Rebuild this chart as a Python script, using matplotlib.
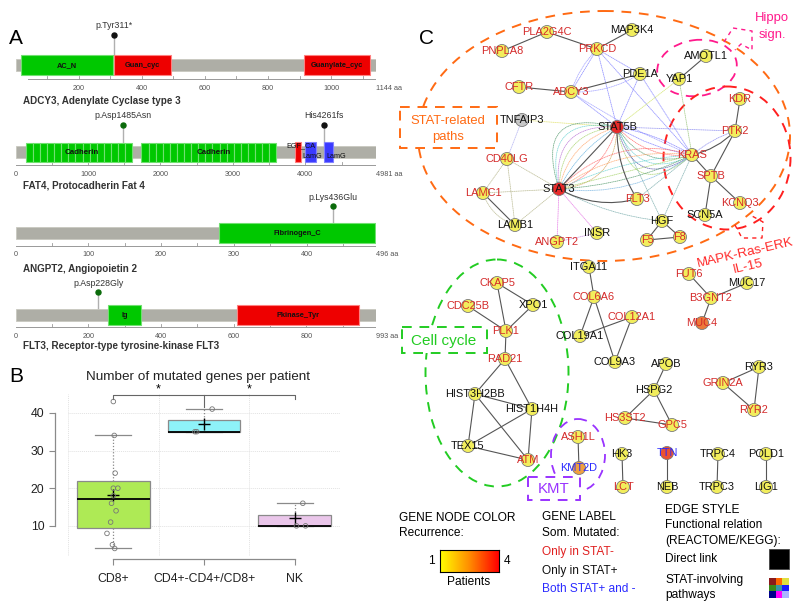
import numpy as np
import matplotlib
matplotlib.use("Agg")
import matplotlib.pyplot as plt
from matplotlib.patches import Rectangle, Circle, Ellipse, FancyArrowPatch
from matplotlib.colors import LinearSegmentedColormap

plt.rcParams['font.family'] = ['Liberation Sans', 'DejaVu Sans']

W, H = 800, 608

# ---------------- panel A data ----------------
prot_titles = ["ADCY3, Adenylate Cyclase type 3", "FAT4, Protocadherin Fat 4",
               "ANGPT2, Angiopoietin 2", "FLT3, Receptor-type tyrosine-kinase FLT3"]
prot_len = [1144, 4981, 496, 993]
prot_label_step = [200, 1000, 100, 200]
prot_tick_step = [100, 500, 50, 100]
prot_axis_start = [40, 0, 0, 0]

dom_prot = [0, 0, 0, 1, 1, 1, 2, 3, 3]
dom_start = [19, 311, 915, 3862, 4000, 4250, 280, 255, 610]
dom_end = [308, 494, 1123, 3945, 4150, 4375, 494, 346, 944]
dom_name = ["AC_N", "Guan_cyc", "Guanylate_cyc", "EGF_CA", "LamG", "LamG", "Fibrinogen_C", "Ig", "Pkinase_Tyr"]
dom_kind = ["g", "r", "r", "r", "b", "b", "g", "g", "r"]
# where the small FAT4 domain names sit (aa)
dom_label_x = [None, None, None, 3940, 4095, 4425, None, None, None]

# FAT4 cadherin repeats
cadherin_starts = [138, 236, 335, 433, 532, 630, 728, 827, 925, 1024, 1122, 1220, 1319, 1417, 1516,
                   1738, 1836, 1934, 2032, 2130, 2228, 2326, 2424, 2522, 2620, 2718, 2816, 2914,
                   3012, 3110, 3208, 3306, 3404, 3502]
cadherin_len = 98
cadherin_label_pos = [920, 2730]

mut_prot = [0, 1, 1, 2, 3]
mut_pos = [311, 1485, 4261, 436, 228]
mut_label = ["p.Tyr311*", "p.Asp1485Asn", "His4261fs", "p.Lys436Glu", "p.Asp228Gly"]
mut_kind = ["k", "g", "k", "g", "g"]

# ---------------- panel B data ----------------
groups = ["CD8+", "CD4+-CD4+/CD8+", "NK"]
cd8_vals = [43, 34, 24, 20, 20, 18, 16, 14, 11, 8, 5, 4]
cd8_jit = [0.00, 0.01, 0.02, 0.00, 0.05, 0.00, -0.02, 0.03, -0.03, -0.07, -0.01, 0.015]
cd4_vals = [35, 35, 41]
cd4_jit = [-0.10, -0.08, 0.09]
nk_vals = [10, 10, 16]
nk_jit = [0.02, 0.12, 0.09]
box_colors = ["#aeea55", "#8ef2f8", "#eac6ea"]

# ---------------- panel C data ----------------
node_names = ["PLA2G4C", "PNPLA8", "PRKCD", "MAP3K4", "PDE1A", "CFTR", "ADCY3", "AMOTL1", "YAP1",
              "TNFAIP3", "STAT5B", "KDR", "PTK2", "KRAS", "SPTB", "CD40LG", "STAT3", "LAMC1",
              "FLT3", "LAMB1", "KCNQ3", "SCN5A", "HGF", "INSR", "ANGPT2", "F5", "F8", "ITGA11",
              "FUT6", "MUC17", "CKAP5", "XPO1", "CDC25B", "COL6A6", "B3GNT2", "COL12A1", "MUC4",
              "PLK1", "COL19A1", "RAD21", "COL9A3", "APOB", "RYR3", "HSPG2", "GRIN2A", "RYR2",
              "HS3ST2", "GPC5", "HK3", "TTN", "TRPC4", "POLD1", "LCT", "NEB", "TRPC3", "LIG1",
              "HIST3H2BB", "HIST1H4H", "TEX15", "ATM", "ASH1L", "KMT2D"]
node_x = [547, 502, 597, 632, 640, 519, 571, 706, 679,
          522, 617, 740, 735, 692, 711, 507, 559, 483,
          637, 515, 740, 705, 662, 597, 557, 647, 680, 589,
          689, 747, 497, 533, 468, 594, 711, 632, 702,
          506, 580, 505, 615, 666, 759, 654, 723, 754,
          625, 672, 622, 667, 718, 766, 623, 667, 717, 766,
          475, 532, 468, 528, 578, 579]
node_y = [32, 51, 49, 30, 74, 87, 92, 56, 79,
          120, 127, 99, 131, 155, 176, 159, 189, 193,
          199, 225, 203, 215, 221, 233, 242, 240, 237, 267,
          274, 283, 283, 305, 306, 297, 298, 317, 323,
          331, 336, 359, 362, 364, 367, 390, 383, 410,
          418, 425, 454, 453, 454, 454, 487, 487, 487, 487,
          394, 409, 446, 460, 437, 468]
# patients with the mutation (0 = not mutated, grey node)
node_rec = [1, 1, 1, 1, 1, 1, 1, 1, 1,
            0, 4, 1, 1, 1, 1, 1, 4, 1,
            1, 1, 1, 1, 1, 1, 1, 1, 1, 1,
            1, 1, 1, 1, 1, 1, 1, 1, 3,
            1, 1, 1, 1, 1, 1, 1, 1, 1,
            1, 1, 1, 3.5, 1, 1, 1, 1, 1, 1,
            1, 1, 1, 1, 1, 2.5]
# r = only in STAT-, k = only in STAT+, b = both
node_lab = ["r", "r", "r", "k", "k", "r", "r", "k", "k",
            "k", "k", "r", "r", "r", "r", "r", "k", "r",
            "r", "k", "r", "k", "k", "k", "r", "r", "r", "k",
            "r", "k", "r", "k", "r", "r", "r", "r", "r",
            "r", "k", "r", "k", "k", "k", "k", "r", "r",
            "r", "r", "k", "b", "k", "k", "r", "k", "k", "k",
            "k", "k", "k", "r", "r", "b"]

direct_edges = [("PNPLA8", "PLA2G4C"), ("PLA2G4C", "PRKCD"), ("PRKCD", "MAP3K4"), ("CFTR", "ADCY3"),
                ("ADCY3", "PDE1A"), ("AMOTL1", "YAP1"), ("KDR", "PTK2"), ("PTK2", "SPTB"),
                ("KRAS", "SPTB"), ("SPTB", "SCN5A"), ("SPTB", "KCNQ3"), ("STAT5B", "STAT3"),
                ("HGF", "F5"), ("HGF", "F8"), ("F5", "F8"), ("LAMC1", "LAMB1"),
                ("ITGA11", "COL6A6"), ("COL6A6", "COL19A1"), ("COL6A6", "COL9A3"),
                ("COL12A1", "COL19A1"), ("COL12A1", "COL9A3"), ("CKAP5", "XPO1"), ("CKAP5", "PLK1"),
                ("CDC25B", "PLK1"), ("XPO1", "PLK1"), ("PLK1", "RAD21"), ("RAD21", "HIST3H2BB"),
                ("RAD21", "HIST1H4H"), ("HIST3H2BB", "HIST1H4H"), ("HIST3H2BB", "TEX15"),
                ("HIST3H2BB", "ATM"), ("HIST1H4H", "TEX15"), ("HIST1H4H", "ATM"), ("TEX15", "ATM"),
                ("ASH1L", "KMT2D"), ("FUT6", "B3GNT2"), ("MUC17", "B3GNT2"), ("B3GNT2", "MUC4"),
                ("APOB", "HSPG2"), ("HSPG2", "HS3ST2"), ("HSPG2", "GPC5"), ("HS3ST2", "GPC5"),
                ("RYR3", "GRIN2A"), ("RYR3", "RYR2"), ("GRIN2A", "RYR2"), ("HK3", "LCT"),
                ("TTN", "NEB"), ("TRPC4", "TRPC3"), ("POLD1", "LIG1")]
curved_direct = [("KRAS", "PTK2", 0.15), ("STAT5B", "FLT3", 0.15), ("STAT3", "FLT3", 0.2)]

pathway_edges = [
    ("PRKCD", "ADCY3", "#6a6aff", 0.0), ("PRKCD", "ADCY3", "#8a8aff", 0.12),
    ("PRKCD", "PDE1A", "#6a6aff", 0.0), ("PRKCD", "STAT5B", "#6a6aff", 0.0),
    ("PRKCD", "KRAS", "#6a6aff", 0.0), ("PDE1A", "STAT5B", "#6a6aff", 0.0),
    ("PDE1A", "KRAS", "#6a6aff", 0.0), ("ADCY3", "STAT5B", "#6a6aff", 0.0),
    ("ADCY3", "KRAS", "#8a8aff", 0.05), ("ADCY3", "PDE1A", "#8a8aff", 0.15),
    ("STAT5B", "PTK2", "#7a7aee", 0.0), ("KRAS", "PTK2", "#7a7aee", -0.1),
    ("TNFAIP3", "CD40LG", "#a0a0ee", 0.0), ("TNFAIP3", "STAT5B", "#dede55", 0.0),
    ("YAP1", "STAT5B", "#c8e050", 0.0), ("YAP1", "KRAS", "#88bb66", 0.0),
    ("CD40LG", "STAT3", "#aaaa7a", 0.0), ("CD40LG", "LAMC1", "#aaaa7a", 0.0),
    ("CD40LG", "LAMB1", "#aaaa7a", 0.0), ("LAMC1", "STAT3", "#aaaa7a", 0.0),
    ("LAMB1", "STAT3", "#aaaa7a", 0.0), ("LAMC1", "LAMB1", "#aaaa7a", 0.25),
    ("STAT3", "ANGPT2", "#e060e0", 0.0), ("STAT3", "INSR", "#e060e0", 0.0),
    ("ANGPT2", "INSR", "#c080e0", 0.0),
    ("STAT5B", "HGF", "#66a0a0", 0.0), ("KRAS", "HGF", "#66a0a0", 0.0),
    ("STAT3", "HGF", "#66a0a0", 0.1), ("KRAS", "FLT3", "#66a0a0", 0.0),
    # STAT3 - STAT5B fan
    ("STAT3", "STAT5B", "#3e8d5a", -0.9), ("STAT3", "STAT5B", "#55cccc", -0.75),
    ("STAT3", "STAT5B", "#b060d0", -0.6), ("STAT3", "STAT5B", "#99cc55", -0.45),
    ("STAT3", "STAT5B", "#ff9955", -0.3), ("STAT3", "STAT5B", "#55aadd", -0.15),
    ("STAT3", "STAT5B", "#ff5555", 0.25), ("STAT3", "STAT5B", "#cc9944", 0.45),
    # STAT5B - KRAS fan
    ("STAT5B", "KRAS", "#6666ff", 0.1), ("STAT5B", "KRAS", "#ff5555", 0.25),
    ("STAT5B", "KRAS", "#3e8d5a", 0.4), ("STAT5B", "KRAS", "#55cccc", 0.55),
    ("STAT5B", "KRAS", "#3a3a9b", 0.7), ("STAT5B", "KRAS", "#99cc55", 0.85),
    ("STAT5B", "KRAS", "#6666ff", -0.1),
    # STAT3 - KRAS fan
    ("STAT3", "KRAS", "#ff5555", -0.3), ("STAT3", "KRAS", "#ff9955", -0.2),
    ("STAT3", "KRAS", "#55cccc", -0.1), ("STAT3", "KRAS", "#99cc55", 0.0),
    ("STAT3", "KRAS", "#3e8d5a", 0.1), ("STAT3", "KRAS", "#66aadd", 0.2),
]

edge_legend_colors = [["#8b1a1a", "#ff6600", "#e0e040"],
                      ["#3a8a1a", "#3a94a8", "#1a1aff"],
                      ["#00008b", "#ff00ff", "#aab4ff"]]


def px_axes(x0, y0, x1, y1):
    return fig.add_axes([x0 / W, 1 - y1 / H, (x1 - x0) / W, (y1 - y0) / H])


fig = plt.figure(figsize=(8, 6.08), dpi=100)
fig.patch.set_facecolor("white")

# overlay in pixel coordinates
ov = fig.add_axes([0, 0, 1, 1])
ov.set_xlim(0, W)
ov.set_ylim(H, 0)
ov.axis("off")

# ======================= Panel A =======================
bar_y = [65, 152, 233, 315]
axis_y = [79, 165, 246, 327]
title_y = [101, 186, 269, 346]
stem_h = [30, 27, 27, 23]
dom_fc = {"g": "#00c800", "r": "#ee0000", "b": "#3a3aff"}
dom_ec = {"g": "#70e070", "r": "#ff8080", "b": "#8080ff"}
mut_c = {"k": "#111111", "g": "#0b6b0b"}
tick_font = dict(family=["Liberation Sans Narrow", "Liberation Sans"], fontsize=5.2, color="#555555")

for i in range(4):
    L = prot_len[i]
    ax = fig.add_axes([15.5 / W, 0, 361 / W, 1])
    ax.set_xlim(0, L)
    ax.set_ylim(H, 0)
    ax.axis("off")
    by = bar_y[i]
    # mutation stems (behind)
    for p, mp, lab, kd in zip(mut_prot, mut_pos, mut_label, mut_kind):
        if p != i:
            continue
        ax.plot([mp, mp], [by, by - stem_h[i]], color="#b0b0b0", lw=1.0, zorder=1)
        ax.plot(mp, by - stem_h[i], "o", ms=3.6, color=mut_c[kd], zorder=4)
        ax.text(mp, by - stem_h[i] - 9, lab, ha="center", va="center", fontsize=6.3, color="#333333")
    ax.add_patch(Rectangle((0, by - 6), L, 12, fc="#aeaea6", ec="#c8c8c0", lw=0.6, zorder=2))
    if i == 1:
        for s in cadherin_starts:
            ax.add_patch(Rectangle((s, by - 9.5), cadherin_len, 19, fc=dom_fc["g"], ec=dom_ec["g"],
                                   lw=0.8, zorder=3))
        for cx in cadherin_label_pos:
            ax.text(cx, by + 1, "Cadherin", ha="center", va="center", fontsize=5.7,
                    fontweight="bold", color="#111111", zorder=5)
    for p, s, e, nm, kd, lx in zip(dom_prot, dom_start, dom_end, dom_name, dom_kind, dom_label_x):
        if p != i:
            continue
        ax.add_patch(Rectangle((s, by - 10), e - s, 20, fc=dom_fc[kd], ec=dom_ec[kd], lw=0.8, zorder=3))
        if lx is not None:
            dy = -6 if nm == "EGF_CA" else 4.5
            ax.text(lx, by + dy, nm, ha="center", va="center", fontsize=5.2, color="#111111", zorder=5)
        else:
            ax.text((s + e) / 2, by + 0.5, nm, ha="center", va="center", fontsize=5.3,
                    fontweight="bold", color="#111111", zorder=5)
    # amino-acid axis
    ay = axis_y[i]
    ax.plot([prot_axis_start[i], L], [ay, ay], color="#999999", lw=0.7)
    t = prot_tick_step[i]
    while t < L:
        ax.plot([t, t], [ay - 3.5, ay], color="#999999", lw=0.6)
        t += prot_tick_step[i]
    ax.plot([L, L], [ay - 3.5, ay], color="#999999", lw=0.6)
    lab = prot_label_step[i] if i == 0 else 0
    while lab < L - prot_label_step[i] * 0.4:
        ax.text(lab, ay + 9, str(lab), ha="center", va="center", **tick_font)
        lab += prot_label_step[i]
    ax.text(L, ay + 9, f"{L} aa", ha="left", va="center", **tick_font)
    ax.text((23 - 15.5) / 361 * L, title_y[i], prot_titles[i], ha="left", va="center",
            fontsize=7.1, fontweight="bold", color="#333333")

ov.text(16, 38, "A", ha="center", va="center", fontsize=15)

# ======================= Panel B =======================


def fivenum(v):
    v = np.sort(np.asarray(v, float))
    n = len(v)
    n4 = np.floor((n + 3) / 2) / 2
    d = np.array([1, n4, (n + 1) / 2, n + 1 - n4, n]) - 1
    return 0.5 * (v[np.floor(d).astype(int)] + v[np.ceil(d).astype(int)])


axB = px_axes(68, 394, 340, 556)
axB.set_xlim(0.5, 3.5)
axB.set_ylim(2, 45)
axB.set_facecolor("none")
for gy in [10, 20, 30, 40]:
    axB.axhline(gy, color="#e2e2e2", lw=0.7, ls=(0, (1, 1)), zorder=0)
for gx in [0.5, 1.5, 2.5, 3.5]:
    axB.axvline(gx, color="#e2e2e2", lw=0.7, ls=(0, (1, 1)), zorder=0)

all_vals = [cd8_vals, cd4_vals, nk_vals]
all_jit = [cd8_jit, cd4_jit, nk_jit]
stats = []
for vals in all_vals:
    mn, q1, med, q3, mx = fivenum(vals)
    iqr = q3 - q1
    v = np.asarray(vals, float)
    stats.append(dict(med=med, q1=q1, q3=q3,
                      whislo=v[v >= q1 - 1.5 * iqr].min(),
                      whishi=v[v <= q3 + 1.5 * iqr].max(),
                      mean=v.mean(), fliers=[]))
bp = axB.bxp(stats, positions=[1, 2, 3], widths=0.8, capwidths=0.4, patch_artist=True,
             showmeans=True, showfliers=False,
             boxprops=dict(edgecolor="#8a8a8a", lw=0.9),
             medianprops=dict(color="black", lw=1.3),
             whiskerprops=dict(color="#8a8a8a", lw=0.9, ls=(0, (1, 1.5))),
             capprops=dict(color="#8a8a8a", lw=0.9),
             meanprops=dict(marker="+", markersize=8, markeredgecolor="black", markeredgewidth=1.0))
for patch, c in zip(bp["boxes"], box_colors):
    patch.set_facecolor(c)
for k, (vals, jit) in enumerate(zip(all_vals, all_jit)):
    axB.scatter(np.array(jit) + k + 1, vals, s=11, facecolor="none", edgecolor="#777777", lw=0.6, zorder=5)

# significance brackets
axB.plot([1, 1, 3, 3], [43.7, 44.8, 44.8, 43.7], color="#666666", lw=0.8, clip_on=False)
axB.plot([2, 2], [44.8, 41.5], color="#666666", lw=0.8, clip_on=False)
axB.text(1.5, 46.3, "*", ha="center", va="center", fontsize=9)
axB.text(2.5, 46.3, "*", ha="center", va="center", fontsize=9)

for s in ["top", "right"]:
    axB.spines[s].set_visible(False)
axB.spines["left"].set_position(("outward", 9.4))
axB.spines["left"].set_bounds(10, 40)
axB.spines["bottom"].set_position(("outward", 2.2))
axB.spines["bottom"].set_bounds(1, 3)
for s in ["left", "bottom"]:
    axB.spines[s].set_color("#8a8a8a")
    axB.spines[s].set_linewidth(0.9)
axB.set_yticks([10, 20, 30, 40])
axB.set_xticks([1, 2, 3])
axB.set_xticklabels(groups)
axB.tick_params(colors="#8a8a8a", labelcolor="#222222", labelsize=8.8, length=4)
axB.tick_params(axis="x", pad=6)
fig.text(198 / W, 1 - 377 / H, "Number of mutated genes per patient", ha="center", va="center",
         fontsize=9.7, color="#222222")
ov.text(16, 377, "B", ha="center", va="center", fontsize=15)

# ======================= Panel C =======================
pos = {n: (x, y) for n, x, y in zip(node_names, node_x, node_y)}

# group outlines
dash = (0, (5, 4))
ov.add_patch(Ellipse((604, 136), 372, 250, fill=False, ec="#ff6a13", lw=1.4, ls=dash, zorder=1))
ov.add_patch(Ellipse((697, 68), 80, 56, angle=-8, fill=False, ec="#ff1a8c", lw=1.3, ls=dash, zorder=1))
ov.plot([724, 733, 752, 752, 741, 735], [42, 28, 31, 50, 44, 50], color="#ff1a8c", lw=1.0, ls=(0, (3, 3)))
ov.add_patch(Ellipse((727, 158), 127, 143, fill=False, ec="#ff2020", lw=1.4, ls=dash, zorder=1))
ov.plot([735, 742, 762, 763, 752], [225, 238, 238, 222, 216], color="#ff2020", lw=1.0, ls=(0, (3, 3)))
ov.add_patch(Ellipse((497, 373), 143, 227, fill=False, ec="#22cc22", lw=1.4, ls=dash, zorder=1))
ov.add_patch(Ellipse((578, 455), 54, 72, fill=False, ec="#9933ff", lw=1.3, ls=dash, zorder=1))

# pathway (dotted) edges
for a, b, c, r in pathway_edges:
    ov.add_patch(FancyArrowPatch(pos[a], pos[b], connectionstyle=f"arc3,rad={r}", arrowstyle="-",
                                 shrinkA=0, shrinkB=0, color=c, lw=0.6, ls=(0, (1, 1.2)), alpha=0.7, zorder=2))
# direct edges
for a, b in direct_edges:
    ov.plot([pos[a][0], pos[b][0]], [pos[a][1], pos[b][1]], color="#555555", lw=0.8, zorder=3)
for a, b, r in curved_direct:
    ov.add_patch(FancyArrowPatch(pos[a], pos[b], connectionstyle=f"arc3,rad={r}", arrowstyle="-",
                                 shrinkA=0, shrinkB=0, color="#555555", lw=0.8, zorder=3))

node_cmap = LinearSegmentedColormap.from_list("rec", ["#f2ee5c", "#f0a040", "#e82a2a"])
lab_col = {"r": "#d42a2a", "k": "#111111", "b": "#2a2aff"}
for n, x, y, rc, lc in zip(node_names, node_x, node_y, node_rec, node_lab):
    fc = "#c8c8c8" if rc == 0 else node_cmap((rc - 1) / 3)
    ov.add_patch(Circle((x, y), 6.5, fc=fc, ec="#7a7a7a", lw=0.6, zorder=4))
    ov.text(x, y, n, ha="center", va="center", fontsize=7.9, color=lab_col[lc], zorder=5)

# group label boxes
ov.add_patch(Rectangle((400, 107), 97, 41, fc="white", ec="#ff6a13", lw=1.4, ls=dash, zorder=6))
ov.text(448, 121, "STAT-related", ha="center", va="center", fontsize=9.4, color="#ff6a13", zorder=7)
ov.text(448, 137, "paths", ha="center", va="center", fontsize=9.4, color="#ff6a13", zorder=7)
ov.text(772, 18, "Hippo", ha="center", va="center", fontsize=9.4, color="#ff1a8c")
ov.text(772, 35, "sign.", ha="center", va="center", fontsize=9.4, color="#ff1a8c")
ov.text(745, 253, "MAPK-Ras-ERK", ha="center", va="center", fontsize=9.6, color="#ff2a2a", rotation=13)
ov.text(748, 267, "IL-15", ha="center", va="center", fontsize=9.6, color="#ff2a2a", rotation=13)
ov.add_patch(Rectangle((402, 327), 85, 26, fc="white", ec="#22cc22", lw=1.4, ls=dash, zorder=6))
ov.text(444, 341, "Cell cycle", ha="center", va="center", fontsize=11, color="#22cc22", zorder=7)
ov.add_patch(Rectangle((528, 477), 52, 23, fc="white", ec="#9933ff", lw=1.4, ls=dash, zorder=6))
ov.text(554, 489, "KMT", ha="center", va="center", fontsize=10.8, color="#9933ff", zorder=7)

ov.text(427, 38, "C", ha="center", va="center", fontsize=15)

# ---------------- legend ----------------
lf = 8.6
ov.text(399, 518, "GENE NODE COLOR", ha="left", va="center", fontsize=lf)
ov.text(399, 533, "Recurrence:", ha="left", va="center", fontsize=lf)
cbax = px_axes(440, 550, 499, 572)
grad_cmap = LinearSegmentedColormap.from_list("leg", ["#ffff00", "#ff8c00", "#ff0000"])
cbax.imshow(np.linspace(1, 4, 100)[None, :], cmap=grad_cmap, aspect="auto", extent=[1, 4, 0, 1])
cbax.set_xticks([])
cbax.set_yticks([])
for s in cbax.spines.values():
    s.set_linewidth(0.8)
ov.text(435, 561, "1", ha="right", va="center", fontsize=lf)
ov.text(504, 561, "4", ha="left", va="center", fontsize=lf)
ov.text(469, 582, "Patients", ha="center", va="center", fontsize=lf)

ov.text(542, 517, "GENE LABEL", ha="left", va="center", fontsize=lf)
ov.text(542, 533, "Som. Mutated:", ha="left", va="center", fontsize=lf)
ov.text(542, 552, "Only in STAT-", ha="left", va="center", fontsize=lf, color="#e02020")
ov.text(542, 571, "Only in STAT+", ha="left", va="center", fontsize=lf, color="#111111")
ov.text(542, 589, "Both STAT+ and -", ha="left", va="center", fontsize=lf, color="#2a2aff")

ov.text(665, 510, "EDGE STYLE", ha="left", va="center", fontsize=lf)
ov.text(665, 525, "Functional relation", ha="left", va="center", fontsize=lf)
ov.text(665, 541, "(REACTOME/KEGG):", ha="left", va="center", fontsize=lf)
ov.text(665, 559, "Direct link", ha="left", va="center", fontsize=lf)
ov.text(665, 580, "STAT-involving", ha="left", va="center", fontsize=lf)
ov.text(665, 595, "pathways", ha="left", va="center", fontsize=lf)
ov.add_patch(Rectangle((769, 549), 20, 20, fc="black", ec="#444444", lw=0.6))
gax = px_axes(769, 578, 789, 598)
grid_rgb = np.array([[matplotlib.colors.to_rgb(c) for c in row] for row in edge_legend_colors])
gax.imshow(grid_rgb, aspect="auto", interpolation="nearest")
gax.axis("off")

fig.savefig("out.png", dpi=100)
